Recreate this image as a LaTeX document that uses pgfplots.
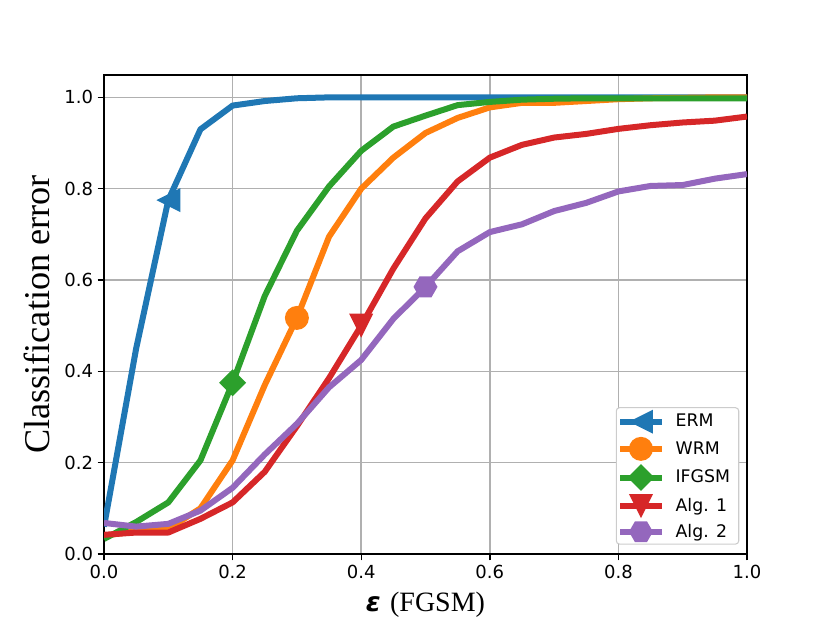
\documentclass[border=0pt]{standalone}
\usepackage{fontspec}
\setmainfont{Liberation Serif}
\newfontfamily\dejavu{DejaVu Sans}
\usepackage{pgfplots}
\pgfplotsset{compat=1.18}
\usetikzlibrary{plotmarks}

\definecolor{tabblue}{HTML}{1F77B4}
\definecolor{taborange}{HTML}{FF7F0E}
\definecolor{tabgreen}{HTML}{2CA02C}
\definecolor{tabred}{HTML}{D62728}
\definecolor{tabpurple}{HTML}{9467BD}

% matplotlib style markers
\pgfdeclareplotmark{mleft}{%
  \pgfpathmoveto{\pgfqpoint{-\pgfplotmarksize}{0pt}}%
  \pgfpathlineto{\pgfqpoint{\pgfplotmarksize}{\pgfplotmarksize}}%
  \pgfpathlineto{\pgfqpoint{\pgfplotmarksize}{-\pgfplotmarksize}}%
  \pgfpathclose\pgfusepathqfill}
\pgfdeclareplotmark{mdown}{%
  \pgfpathmoveto{\pgfqpoint{0pt}{-\pgfplotmarksize}}%
  \pgfpathlineto{\pgfqpoint{\pgfplotmarksize}{\pgfplotmarksize}}%
  \pgfpathlineto{\pgfqpoint{-\pgfplotmarksize}{\pgfplotmarksize}}%
  \pgfpathclose\pgfusepathqfill}
\pgfdeclareplotmark{mdiamond}{%
  \pgfpathmoveto{\pgfqpoint{0pt}{1.12\pgfplotmarksize}}%
  \pgfpathlineto{\pgfqpoint{1.12\pgfplotmarksize}{0pt}}%
  \pgfpathlineto{\pgfqpoint{0pt}{-1.12\pgfplotmarksize}}%
  \pgfpathlineto{\pgfqpoint{-1.12\pgfplotmarksize}{0pt}}%
  \pgfpathclose\pgfusepathqfill}
\pgfdeclareplotmark{mcircle}{%
  \pgfpathcircle{\pgfpointorigin}{\pgfplotmarksize}\pgfusepathqfill}
\pgfdeclareplotmark{mhex}{%
  \pgfpathmoveto{\pgfqpoint{\pgfplotmarksize}{0pt}}%
  \pgfpathlineto{\pgfqpoint{0.5\pgfplotmarksize}{0.866\pgfplotmarksize}}%
  \pgfpathlineto{\pgfqpoint{-0.5\pgfplotmarksize}{0.866\pgfplotmarksize}}%
  \pgfpathlineto{\pgfqpoint{-\pgfplotmarksize}{0pt}}%
  \pgfpathlineto{\pgfqpoint{-0.5\pgfplotmarksize}{-0.866\pgfplotmarksize}}%
  \pgfpathlineto{\pgfqpoint{0.5\pgfplotmarksize}{-0.866\pgfplotmarksize}}%
  \pgfpathclose\pgfusepathqfill}

\begin{document}
\begin{tikzpicture}
  \useasboundingbox (0,0) rectangle (622.5pt,467.25pt);
  \begin{axis}[
    at={(78pt,51.75pt)}, anchor=south west,
    scale only axis,
    width=482.25pt, height=359.25pt,
    xmin=0, xmax=1, ymin=0, ymax=1.049,
    xtick={0,0.2,0.4,0.6,0.8,1}, ytick={0,0.2,0.4,0.6,0.8,1},
    xticklabels={0.0,0.2,0.4,0.6,0.8,1.0},
    yticklabels={0.0,0.2,0.4,0.6,0.8,1.0},
    tick align=outside, tick pos=left,
    major tick length=4.7pt,
    tick style={black, line width=1.05pt},
    axis line style={black, line width=1.05pt},
    grid=major,
    grid style={color=black!31, line width=1.1pt},
    tick label style={font=\dejavu\fontsize{13.5}{13.5}\selectfont},
    /pgf/number format/assume math mode=true,
    xlabel={{\dejavu\bfseries\itshape\fontsize{20}{20}\selectfont ε}\hspace{7pt}(FGSM)},
    ylabel={Classification error},
    xlabel style={font=\fontsize{21}{21}\selectfont, at={(axis description cs:0.5,0)}, anchor=north, yshift=-25pt},
    ylabel style={font=\fontsize{27.2}{27.2}\selectfont, at={(axis description cs:0,0.5)}, anchor=south, yshift=37pt},
    every axis plot/.append style={line width=4.5pt, line join=round, mark size=9pt},
    legend image code/.code={%
      \draw[#1, mark=none] (0pt,0pt) -- (31pt,0pt);
      \draw[#1, mark indices={1}] plot coordinates {(15.5pt,0pt)};
    },
    legend cell align=left,
    legend style={
      at={(0.988,0.0195)}, anchor=south east,
      font=\dejavu\fontsize{13}{13}\selectfont,
      draw=black!20, line width=0.8pt, rounded corners=2.5pt,
      inner xsep=0.75pt, inner ysep=1.5pt,
      row sep=2.4pt,
      /tikz/every odd column/.append style={column sep=6.25pt},
    },
  ]
    \addplot[tabblue, mark=mleft, mark indices={3}] coordinates {
      (0,0.06) (0.05,0.45) (0.1,0.775) (0.15,0.93) (0.2,0.982) (0.25,0.992)
      (0.3,0.998) (0.35,1) (0.4,1) (0.45,1) (0.5,1) (0.55,1) (0.6,1) (0.65,1)
      (0.7,1) (0.75,1) (0.8,1) (0.85,1) (0.9,1) (0.95,1) (1,1)
    };
    \addplot[taborange, mark=mcircle, mark indices={7}] coordinates {
      (0,0.04) (0.05,0.05) (0.1,0.055) (0.15,0.10) (0.2,0.205) (0.25,0.37)
      (0.3,0.517) (0.35,0.695) (0.4,0.80) (0.45,0.868) (0.5,0.922) (0.55,0.955)
      (0.6,0.978) (0.65,0.988) (0.7,0.988) (0.75,0.992) (0.8,0.996) (0.85,0.998)
      (0.9,0.999) (0.95,1) (1,1)
    };
    \addplot[tabgreen, mark=mdiamond, mark indices={5}] coordinates {
      (0,0.033) (0.05,0.07) (0.1,0.113) (0.15,0.205) (0.2,0.375) (0.25,0.565)
      (0.3,0.708) (0.35,0.805) (0.4,0.883) (0.45,0.936) (0.5,0.96) (0.55,0.983)
      (0.6,0.99) (0.65,0.995) (0.7,0.997) (0.75,0.998) (0.8,0.998) (0.85,0.998)
      (0.9,0.998) (0.95,0.998) (1,0.998)
    };
    \addplot[tabred, mark=mdown, mark indices={9}] coordinates {
      (0,0.042) (0.05,0.047) (0.1,0.047) (0.15,0.077) (0.2,0.113) (0.25,0.18)
      (0.3,0.28) (0.35,0.385) (0.4,0.50) (0.45,0.625) (0.5,0.735) (0.55,0.816)
      (0.6,0.868) (0.65,0.896) (0.7,0.912) (0.75,0.92) (0.8,0.931) (0.85,0.939)
      (0.9,0.945) (0.95,0.949) (1,0.958)
    };
    \addplot[tabpurple, mark=mhex, mark indices={11}] coordinates {
      (0,0.068) (0.05,0.06) (0.1,0.066) (0.15,0.095) (0.2,0.145) (0.25,0.218)
      (0.3,0.285) (0.35,0.365) (0.4,0.425) (0.45,0.515) (0.5,0.585) (0.55,0.663)
      (0.6,0.705) (0.65,0.722) (0.7,0.751) (0.75,0.769) (0.8,0.794) (0.85,0.806)
      (0.9,0.808) (0.95,0.822) (1,0.832)
    };
    \legend{ERM,WRM,\mbox{IFGSM\hspace{3.75pt}},Alg. 1,Alg. 2}
  \end{axis}
\end{tikzpicture}
\end{document}
